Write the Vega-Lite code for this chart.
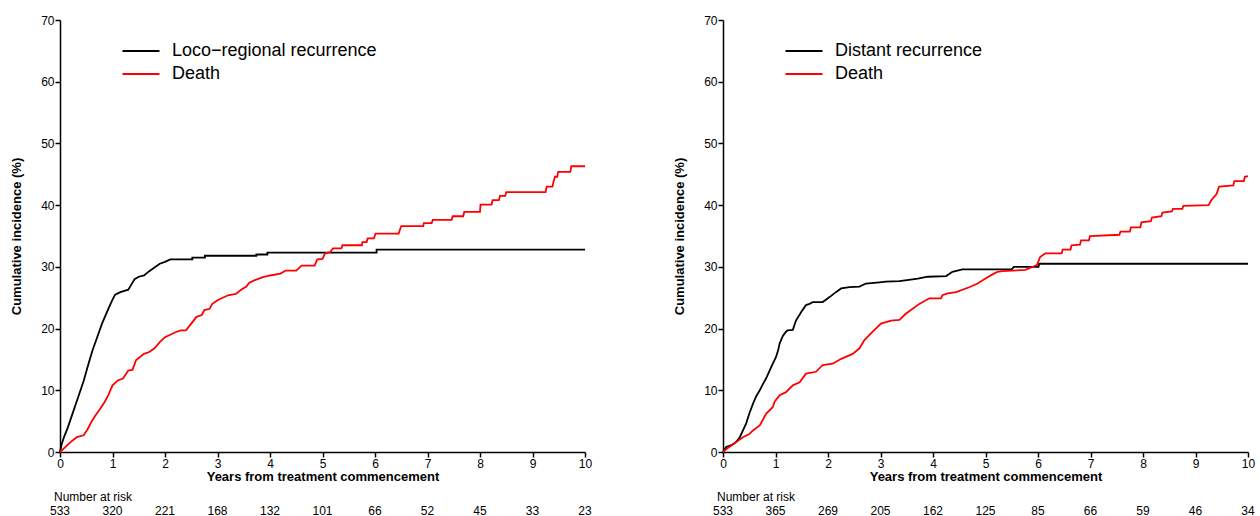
{
  "$schema": "https://vega.github.io/schema/vega-lite/v6.json",
  "padding": {"left": 10, "top": 14, "right": 5, "bottom": 0},
  "config": {
    "font": "Liberation Sans",
    "view": {"stroke": null},
    "axis": {"domainColor": "#000000", "domainWidth": 1.5, "tickColor": "#000000", "tickWidth": 1.5, "tickSize": 5, "labelColor": "#000000", "labelFontSize": 12, "labelPadding": 1, "titleColor": "#000000", "titleFontSize": 13, "titleFontWeight": "bold", "grid": false, "labelFlush": false},
    "legend": {"orient": "none", "legendX": 72, "legendY": 22, "title": null, "symbolType": "M-3,0H3", "symbolSize": 152, "symbolStrokeWidth": 2, "labelFontSize": 18, "labelOffset": 22, "rowPadding": 5, "padding": 0, "labelColor": "#000000", "labelLimit": 400}
  },
  "datasets": {
    "curves": [
      {"panel": "L", "series": "Loco−regional recurrence", "t": 0, "ci": 0},
      {"panel": "L", "series": "Loco−regional recurrence", "t": 0.03, "ci": 1.2},
      {"panel": "L", "series": "Loco−regional recurrence", "t": 0.08, "ci": 2.5},
      {"panel": "L", "series": "Loco−regional recurrence", "t": 0.15, "ci": 4},
      {"panel": "L", "series": "Loco−regional recurrence", "t": 0.25, "ci": 6.5},
      {"panel": "L", "series": "Loco−regional recurrence", "t": 0.35, "ci": 9},
      {"panel": "L", "series": "Loco−regional recurrence", "t": 0.45, "ci": 11.5},
      {"panel": "L", "series": "Loco−regional recurrence", "t": 0.55, "ci": 14.5},
      {"panel": "L", "series": "Loco−regional recurrence", "t": 0.62, "ci": 16.5},
      {"panel": "L", "series": "Loco−regional recurrence", "t": 0.7, "ci": 18.4},
      {"panel": "L", "series": "Loco−regional recurrence", "t": 0.8, "ci": 20.8},
      {"panel": "L", "series": "Loco−regional recurrence", "t": 0.9, "ci": 22.8},
      {"panel": "L", "series": "Loco−regional recurrence", "t": 1.0, "ci": 24.7},
      {"panel": "L", "series": "Loco−regional recurrence", "t": 1.05, "ci": 25.5},
      {"panel": "L", "series": "Loco−regional recurrence", "t": 1.15, "ci": 25.9},
      {"panel": "L", "series": "Loco−regional recurrence", "t": 1.3, "ci": 26.3},
      {"panel": "L", "series": "Loco−regional recurrence", "t": 1.35, "ci": 27},
      {"panel": "L", "series": "Loco−regional recurrence", "t": 1.42, "ci": 28},
      {"panel": "L", "series": "Loco−regional recurrence", "t": 1.5, "ci": 28.4},
      {"panel": "L", "series": "Loco−regional recurrence", "t": 1.6, "ci": 28.6},
      {"panel": "L", "series": "Loco−regional recurrence", "t": 1.7, "ci": 29.3},
      {"panel": "L", "series": "Loco−regional recurrence", "t": 1.8, "ci": 29.9},
      {"panel": "L", "series": "Loco−regional recurrence", "t": 1.9, "ci": 30.5},
      {"panel": "L", "series": "Loco−regional recurrence", "t": 2.0, "ci": 30.8},
      {"panel": "L", "series": "Loco−regional recurrence", "t": 2.1, "ci": 31.2},
      {"panel": "L", "series": "Loco−regional recurrence", "t": 2.52, "ci": 31.2},
      {"panel": "L", "series": "Loco−regional recurrence", "t": 2.52, "ci": 31.5},
      {"panel": "L", "series": "Loco−regional recurrence", "t": 2.76, "ci": 31.5},
      {"panel": "L", "series": "Loco−regional recurrence", "t": 2.76, "ci": 31.8},
      {"panel": "L", "series": "Loco−regional recurrence", "t": 3.74, "ci": 31.8},
      {"panel": "L", "series": "Loco−regional recurrence", "t": 3.74, "ci": 32.0},
      {"panel": "L", "series": "Loco−regional recurrence", "t": 3.95, "ci": 32.0},
      {"panel": "L", "series": "Loco−regional recurrence", "t": 3.95, "ci": 32.3},
      {"panel": "L", "series": "Loco−regional recurrence", "t": 6.03, "ci": 32.3},
      {"panel": "L", "series": "Loco−regional recurrence", "t": 6.03, "ci": 32.8},
      {"panel": "L", "series": "Loco−regional recurrence", "t": 10, "ci": 32.8},
      {"panel": "L", "series": "Death", "t": 0, "ci": 0},
      {"panel": "L", "series": "Death", "t": 0.1, "ci": 0.8},
      {"panel": "L", "series": "Death", "t": 0.2, "ci": 1.6},
      {"panel": "L", "series": "Death", "t": 0.32, "ci": 2.4},
      {"panel": "L", "series": "Death", "t": 0.45, "ci": 2.7},
      {"panel": "L", "series": "Death", "t": 0.52, "ci": 3.6},
      {"panel": "L", "series": "Death", "t": 0.6, "ci": 4.9},
      {"panel": "L", "series": "Death", "t": 0.68, "ci": 6.0},
      {"panel": "L", "series": "Death", "t": 0.75, "ci": 6.8},
      {"panel": "L", "series": "Death", "t": 0.85, "ci": 8.1},
      {"panel": "L", "series": "Death", "t": 0.92, "ci": 9.2},
      {"panel": "L", "series": "Death", "t": 1.0, "ci": 10.8},
      {"panel": "L", "series": "Death", "t": 1.1, "ci": 11.6},
      {"panel": "L", "series": "Death", "t": 1.2, "ci": 11.9},
      {"panel": "L", "series": "Death", "t": 1.3, "ci": 13.2},
      {"panel": "L", "series": "Death", "t": 1.38, "ci": 13.3},
      {"panel": "L", "series": "Death", "t": 1.45, "ci": 14.9},
      {"panel": "L", "series": "Death", "t": 1.6, "ci": 15.9},
      {"panel": "L", "series": "Death", "t": 1.7, "ci": 16.2},
      {"panel": "L", "series": "Death", "t": 1.8, "ci": 16.8},
      {"panel": "L", "series": "Death", "t": 1.9, "ci": 17.8},
      {"panel": "L", "series": "Death", "t": 2.0, "ci": 18.6},
      {"panel": "L", "series": "Death", "t": 2.1, "ci": 19.0},
      {"panel": "L", "series": "Death", "t": 2.2, "ci": 19.4},
      {"panel": "L", "series": "Death", "t": 2.3, "ci": 19.7},
      {"panel": "L", "series": "Death", "t": 2.4, "ci": 19.7},
      {"panel": "L", "series": "Death", "t": 2.5, "ci": 20.8},
      {"panel": "L", "series": "Death", "t": 2.6, "ci": 21.9},
      {"panel": "L", "series": "Death", "t": 2.7, "ci": 22.2},
      {"panel": "L", "series": "Death", "t": 2.75, "ci": 23.0},
      {"panel": "L", "series": "Death", "t": 2.85, "ci": 23.2},
      {"panel": "L", "series": "Death", "t": 2.9, "ci": 24.0},
      {"panel": "L", "series": "Death", "t": 3.0, "ci": 24.6},
      {"panel": "L", "series": "Death", "t": 3.2, "ci": 25.4},
      {"panel": "L", "series": "Death", "t": 3.35, "ci": 25.6},
      {"panel": "L", "series": "Death", "t": 3.45, "ci": 26.3},
      {"panel": "L", "series": "Death", "t": 3.55, "ci": 26.8},
      {"panel": "L", "series": "Death", "t": 3.6, "ci": 27.4},
      {"panel": "L", "series": "Death", "t": 3.7, "ci": 27.8},
      {"panel": "L", "series": "Death", "t": 3.85, "ci": 28.3},
      {"panel": "L", "series": "Death", "t": 4.0, "ci": 28.6},
      {"panel": "L", "series": "Death", "t": 4.2, "ci": 28.9},
      {"panel": "L", "series": "Death", "t": 4.3, "ci": 29.4},
      {"panel": "L", "series": "Death", "t": 4.5, "ci": 29.4},
      {"panel": "L", "series": "Death", "t": 4.6, "ci": 30.2},
      {"panel": "L", "series": "Death", "t": 4.85, "ci": 30.2},
      {"panel": "L", "series": "Death", "t": 4.9, "ci": 31.2},
      {"panel": "L", "series": "Death", "t": 5.0, "ci": 31.3},
      {"panel": "L", "series": "Death", "t": 5.05, "ci": 32.2},
      {"panel": "L", "series": "Death", "t": 5.15, "ci": 32.4},
      {"panel": "L", "series": "Death", "t": 5.2, "ci": 33.0},
      {"panel": "L", "series": "Death", "t": 5.36, "ci": 33.0},
      {"panel": "L", "series": "Death", "t": 5.38, "ci": 33.5},
      {"panel": "L", "series": "Death", "t": 5.75, "ci": 33.5},
      {"panel": "L", "series": "Death", "t": 5.76, "ci": 34.0},
      {"panel": "L", "series": "Death", "t": 5.84, "ci": 34.0},
      {"panel": "L", "series": "Death", "t": 5.86, "ci": 34.6},
      {"panel": "L", "series": "Death", "t": 5.98, "ci": 34.6},
      {"panel": "L", "series": "Death", "t": 6.01, "ci": 35.4},
      {"panel": "L", "series": "Death", "t": 6.45, "ci": 35.4},
      {"panel": "L", "series": "Death", "t": 6.47, "ci": 35.9},
      {"panel": "L", "series": "Death", "t": 6.5, "ci": 36.6},
      {"panel": "L", "series": "Death", "t": 6.92, "ci": 36.6},
      {"panel": "L", "series": "Death", "t": 6.93, "ci": 37.1},
      {"panel": "L", "series": "Death", "t": 7.08, "ci": 37.1},
      {"panel": "L", "series": "Death", "t": 7.1, "ci": 37.6},
      {"panel": "L", "series": "Death", "t": 7.46, "ci": 37.6},
      {"panel": "L", "series": "Death", "t": 7.48, "ci": 38.2},
      {"panel": "L", "series": "Death", "t": 7.68, "ci": 38.2},
      {"panel": "L", "series": "Death", "t": 7.7, "ci": 38.9},
      {"panel": "L", "series": "Death", "t": 8.0, "ci": 38.9},
      {"panel": "L", "series": "Death", "t": 8.01, "ci": 40.1},
      {"panel": "L", "series": "Death", "t": 8.22, "ci": 40.1},
      {"panel": "L", "series": "Death", "t": 8.24, "ci": 40.8},
      {"panel": "L", "series": "Death", "t": 8.36, "ci": 40.8},
      {"panel": "L", "series": "Death", "t": 8.38, "ci": 41.5},
      {"panel": "L", "series": "Death", "t": 8.48, "ci": 41.5},
      {"panel": "L", "series": "Death", "t": 8.5, "ci": 42.1},
      {"panel": "L", "series": "Death", "t": 9.25, "ci": 42.1},
      {"panel": "L", "series": "Death", "t": 9.27, "ci": 43.0},
      {"panel": "L", "series": "Death", "t": 9.38, "ci": 43.0},
      {"panel": "L", "series": "Death", "t": 9.4, "ci": 43.8},
      {"panel": "L", "series": "Death", "t": 9.43, "ci": 44.6},
      {"panel": "L", "series": "Death", "t": 9.47, "ci": 44.6},
      {"panel": "L", "series": "Death", "t": 9.49, "ci": 45.4},
      {"panel": "L", "series": "Death", "t": 9.72, "ci": 45.4},
      {"panel": "L", "series": "Death", "t": 9.74, "ci": 46.3},
      {"panel": "L", "series": "Death", "t": 10, "ci": 46.3},
      {"panel": "R", "series": "Distant recurrence", "t": 0, "ci": 0},
      {"panel": "R", "series": "Distant recurrence", "t": 0.06, "ci": 0.8},
      {"panel": "R", "series": "Distant recurrence", "t": 0.16, "ci": 1.1},
      {"panel": "R", "series": "Distant recurrence", "t": 0.25, "ci": 1.6},
      {"panel": "R", "series": "Distant recurrence", "t": 0.32, "ci": 2.4},
      {"panel": "R", "series": "Distant recurrence", "t": 0.38, "ci": 3.5},
      {"panel": "R", "series": "Distant recurrence", "t": 0.44, "ci": 4.6},
      {"panel": "R", "series": "Distant recurrence", "t": 0.5, "ci": 6.2},
      {"panel": "R", "series": "Distant recurrence", "t": 0.57, "ci": 7.8},
      {"panel": "R", "series": "Distant recurrence", "t": 0.63, "ci": 9.0},
      {"panel": "R", "series": "Distant recurrence", "t": 0.7, "ci": 10.0},
      {"panel": "R", "series": "Distant recurrence", "t": 0.76, "ci": 11.0},
      {"panel": "R", "series": "Distant recurrence", "t": 0.82, "ci": 11.9},
      {"panel": "R", "series": "Distant recurrence", "t": 0.92, "ci": 13.8},
      {"panel": "R", "series": "Distant recurrence", "t": 1.01, "ci": 15.4},
      {"panel": "R", "series": "Distant recurrence", "t": 1.05, "ci": 16.5},
      {"panel": "R", "series": "Distant recurrence", "t": 1.08, "ci": 17.6},
      {"panel": "R", "series": "Distant recurrence", "t": 1.14, "ci": 18.8},
      {"panel": "R", "series": "Distant recurrence", "t": 1.2, "ci": 19.5},
      {"panel": "R", "series": "Distant recurrence", "t": 1.23, "ci": 19.7},
      {"panel": "R", "series": "Distant recurrence", "t": 1.33, "ci": 19.8},
      {"panel": "R", "series": "Distant recurrence", "t": 1.39, "ci": 21.3},
      {"panel": "R", "series": "Distant recurrence", "t": 1.49, "ci": 22.7},
      {"panel": "R", "series": "Distant recurrence", "t": 1.58, "ci": 23.8},
      {"panel": "R", "series": "Distant recurrence", "t": 1.65, "ci": 24.0},
      {"panel": "R", "series": "Distant recurrence", "t": 1.71, "ci": 24.3},
      {"panel": "R", "series": "Distant recurrence", "t": 1.9, "ci": 24.3},
      {"panel": "R", "series": "Distant recurrence", "t": 2.03, "ci": 25.1},
      {"panel": "R", "series": "Distant recurrence", "t": 2.15, "ci": 25.9},
      {"panel": "R", "series": "Distant recurrence", "t": 2.25, "ci": 26.5},
      {"panel": "R", "series": "Distant recurrence", "t": 2.41, "ci": 26.7},
      {"panel": "R", "series": "Distant recurrence", "t": 2.6, "ci": 26.8},
      {"panel": "R", "series": "Distant recurrence", "t": 2.72, "ci": 27.3},
      {"panel": "R", "series": "Distant recurrence", "t": 2.98, "ci": 27.5},
      {"panel": "R", "series": "Distant recurrence", "t": 3.1, "ci": 27.6},
      {"panel": "R", "series": "Distant recurrence", "t": 3.36, "ci": 27.7},
      {"panel": "R", "series": "Distant recurrence", "t": 3.54, "ci": 27.9},
      {"panel": "R", "series": "Distant recurrence", "t": 3.71, "ci": 28.1},
      {"panel": "R", "series": "Distant recurrence", "t": 3.9, "ci": 28.4},
      {"panel": "R", "series": "Distant recurrence", "t": 4.25, "ci": 28.5},
      {"panel": "R", "series": "Distant recurrence", "t": 4.37, "ci": 29.2},
      {"panel": "R", "series": "Distant recurrence", "t": 4.56, "ci": 29.6},
      {"panel": "R", "series": "Distant recurrence", "t": 5.5, "ci": 29.6},
      {"panel": "R", "series": "Distant recurrence", "t": 5.54, "ci": 30.0},
      {"panel": "R", "series": "Distant recurrence", "t": 6.01, "ci": 30.0},
      {"panel": "R", "series": "Distant recurrence", "t": 6.02, "ci": 30.5},
      {"panel": "R", "series": "Distant recurrence", "t": 10, "ci": 30.5},
      {"panel": "R", "series": "Death", "t": 0, "ci": 0},
      {"panel": "R", "series": "Death", "t": 0.1, "ci": 0.7},
      {"panel": "R", "series": "Death", "t": 0.25, "ci": 1.6},
      {"panel": "R", "series": "Death", "t": 0.38, "ci": 2.4},
      {"panel": "R", "series": "Death", "t": 0.5, "ci": 2.9},
      {"panel": "R", "series": "Death", "t": 0.57, "ci": 3.5},
      {"panel": "R", "series": "Death", "t": 0.7, "ci": 4.3},
      {"panel": "R", "series": "Death", "t": 0.82, "ci": 6.2},
      {"panel": "R", "series": "Death", "t": 0.95, "ci": 7.3},
      {"panel": "R", "series": "Death", "t": 0.98, "ci": 8.1},
      {"panel": "R", "series": "Death", "t": 1.08, "ci": 9.2},
      {"panel": "R", "series": "Death", "t": 1.2, "ci": 9.7},
      {"panel": "R", "series": "Death", "t": 1.33, "ci": 10.8},
      {"panel": "R", "series": "Death", "t": 1.46, "ci": 11.3},
      {"panel": "R", "series": "Death", "t": 1.58, "ci": 12.7},
      {"panel": "R", "series": "Death", "t": 1.77, "ci": 13.0},
      {"panel": "R", "series": "Death", "t": 1.9, "ci": 14.1},
      {"panel": "R", "series": "Death", "t": 2.09, "ci": 14.3},
      {"panel": "R", "series": "Death", "t": 2.25, "ci": 15.1},
      {"panel": "R", "series": "Death", "t": 2.47, "ci": 15.9},
      {"panel": "R", "series": "Death", "t": 2.6, "ci": 16.8},
      {"panel": "R", "series": "Death", "t": 2.69, "ci": 18.1},
      {"panel": "R", "series": "Death", "t": 2.85, "ci": 19.5},
      {"panel": "R", "series": "Death", "t": 3.01, "ci": 20.8},
      {"panel": "R", "series": "Death", "t": 3.2, "ci": 21.3},
      {"panel": "R", "series": "Death", "t": 3.36, "ci": 21.4},
      {"panel": "R", "series": "Death", "t": 3.48, "ci": 22.4},
      {"panel": "R", "series": "Death", "t": 3.58, "ci": 23.0},
      {"panel": "R", "series": "Death", "t": 3.74, "ci": 24.0},
      {"panel": "R", "series": "Death", "t": 3.93, "ci": 24.9},
      {"panel": "R", "series": "Death", "t": 4.15, "ci": 24.9},
      {"panel": "R", "series": "Death", "t": 4.18, "ci": 25.4},
      {"panel": "R", "series": "Death", "t": 4.28, "ci": 25.7},
      {"panel": "R", "series": "Death", "t": 4.44, "ci": 25.9},
      {"panel": "R", "series": "Death", "t": 4.69, "ci": 26.7},
      {"panel": "R", "series": "Death", "t": 4.85, "ci": 27.3},
      {"panel": "R", "series": "Death", "t": 5.0, "ci": 28.1},
      {"panel": "R", "series": "Death", "t": 5.16, "ci": 28.9},
      {"panel": "R", "series": "Death", "t": 5.23, "ci": 29.2},
      {"panel": "R", "series": "Death", "t": 5.32, "ci": 29.3},
      {"panel": "R", "series": "Death", "t": 5.76, "ci": 29.5},
      {"panel": "R", "series": "Death", "t": 5.98, "ci": 30.3},
      {"panel": "R", "series": "Death", "t": 6.04, "ci": 31.6},
      {"panel": "R", "series": "Death", "t": 6.14, "ci": 32.2},
      {"panel": "R", "series": "Death", "t": 6.45, "ci": 32.2},
      {"panel": "R", "series": "Death", "t": 6.47, "ci": 32.8},
      {"panel": "R", "series": "Death", "t": 6.62, "ci": 32.8},
      {"panel": "R", "series": "Death", "t": 6.64, "ci": 33.5},
      {"panel": "R", "series": "Death", "t": 6.8, "ci": 33.6},
      {"panel": "R", "series": "Death", "t": 6.82, "ci": 34.3},
      {"panel": "R", "series": "Death", "t": 6.97, "ci": 34.3},
      {"panel": "R", "series": "Death", "t": 6.99, "ci": 35.0},
      {"panel": "R", "series": "Death", "t": 7.55, "ci": 35.2},
      {"panel": "R", "series": "Death", "t": 7.57, "ci": 35.7},
      {"panel": "R", "series": "Death", "t": 7.75, "ci": 35.7},
      {"panel": "R", "series": "Death", "t": 7.77, "ci": 36.4},
      {"panel": "R", "series": "Death", "t": 7.95, "ci": 36.4},
      {"panel": "R", "series": "Death", "t": 7.97, "ci": 37.2},
      {"panel": "R", "series": "Death", "t": 8.15, "ci": 37.4},
      {"panel": "R", "series": "Death", "t": 8.17, "ci": 38.0},
      {"panel": "R", "series": "Death", "t": 8.35, "ci": 38.2},
      {"panel": "R", "series": "Death", "t": 8.37, "ci": 38.8},
      {"panel": "R", "series": "Death", "t": 8.55, "ci": 39.0},
      {"panel": "R", "series": "Death", "t": 8.57, "ci": 39.4},
      {"panel": "R", "series": "Death", "t": 8.75, "ci": 39.4},
      {"panel": "R", "series": "Death", "t": 8.77, "ci": 39.9},
      {"panel": "R", "series": "Death", "t": 9.25, "ci": 40.0},
      {"panel": "R", "series": "Death", "t": 9.3, "ci": 40.8},
      {"panel": "R", "series": "Death", "t": 9.4, "ci": 41.8},
      {"panel": "R", "series": "Death", "t": 9.45, "ci": 43.0},
      {"panel": "R", "series": "Death", "t": 9.72, "ci": 43.2},
      {"panel": "R", "series": "Death", "t": 9.74, "ci": 43.9},
      {"panel": "R", "series": "Death", "t": 9.92, "ci": 43.9},
      {"panel": "R", "series": "Death", "t": 9.94, "ci": 44.6},
      {"panel": "R", "series": "Death", "t": 10, "ci": 44.7}
    ],
    "risk": [
      {"panel": "L", "t": 0, "n": 533}, {"panel": "L", "t": 1, "n": 320}, {"panel": "L", "t": 2, "n": 221}, {"panel": "L", "t": 3, "n": 168}, {"panel": "L", "t": 4, "n": 132}, {"panel": "L", "t": 5, "n": 101}, {"panel": "L", "t": 6, "n": 66}, {"panel": "L", "t": 7, "n": 52}, {"panel": "L", "t": 8, "n": 45}, {"panel": "L", "t": 9, "n": 33}, {"panel": "L", "t": 10, "n": 23},
      {"panel": "R", "t": 0, "n": 533}, {"panel": "R", "t": 1, "n": 365}, {"panel": "R", "t": 2, "n": 269}, {"panel": "R", "t": 3, "n": 205}, {"panel": "R", "t": 4, "n": 162}, {"panel": "R", "t": 5, "n": 125}, {"panel": "R", "t": 6, "n": 85}, {"panel": "R", "t": 7, "n": 66}, {"panel": "R", "t": 8, "n": 59}, {"panel": "R", "t": 9, "n": 46}, {"panel": "R", "t": 10, "n": 34}
    ]
  },
  "spacing": 81,
  "resolve": {"scale": {"color": "independent"}, "legend": {"color": "independent"}},
  "hconcat": [
    {
      "spacing": 8,
      "vconcat": [
        {
          "width": 525, "height": 432,
          "data": {"name": "curves"},
          "transform": [{"filter": "datum.panel === 'L'"}],
          "mark": {"type": "line", "strokeWidth": 1.8, "interpolate": "linear"},
          "encoding": {
            "x": {"field": "t", "type": "quantitative", "scale": {"domain": [0, 10], "nice": false}, "axis": {"values": [0,1,2,3,4,5,6,7,8,9,10], "title": "Years from treatment commencement", "titlePadding": 1}},
            "y": {"field": "ci", "type": "quantitative", "scale": {"domain": [0, 70], "nice": false}, "axis": {"values": [0,10,20,30,40,50,60,70], "title": "Cumulative incidence (%)", "titlePadding": 17}},
            "color": {"field": "series", "type": "nominal", "scale": {"domain": ["Loco−regional recurrence", "Death"], "range": ["#000000", "#ff0000"]}}
          }
        },
        {
          "width": 525, "height": 10,
          "data": {"name": "risk"},
          "transform": [{"filter": "datum.panel === 'L'"}],
          "title": {"text": "Number at risk", "anchor": "start", "frame": "group", "fontSize": 12, "fontWeight": "normal", "dx": -6, "offset": 1, "color": "#000000"},
          "mark": {"type": "text", "fontSize": 12, "color": "#000000"},
          "encoding": {
            "x": {"field": "t", "type": "quantitative", "scale": {"domain": [0, 10], "nice": false}, "axis": null},
            "text": {"field": "n", "type": "quantitative"}
          }
        }
      ]
    },
    {
      "spacing": 8,
      "vconcat": [
        {
          "width": 525, "height": 432,
          "data": {"name": "curves"},
          "transform": [{"filter": "datum.panel === 'R'"}],
          "mark": {"type": "line", "strokeWidth": 1.8, "interpolate": "linear"},
          "encoding": {
            "x": {"field": "t", "type": "quantitative", "scale": {"domain": [0, 10], "nice": false}, "axis": {"values": [0,1,2,3,4,5,6,7,8,9,10], "title": "Years from treatment commencement", "titlePadding": 1}},
            "y": {"field": "ci", "type": "quantitative", "scale": {"domain": [0, 70], "nice": false}, "axis": {"values": [0,10,20,30,40,50,60,70], "title": "Cumulative incidence (%)", "titlePadding": 17}},
            "color": {"field": "series", "type": "nominal", "scale": {"domain": ["Distant recurrence", "Death"], "range": ["#000000", "#ff0000"]}}
          }
        },
        {
          "width": 525, "height": 10,
          "data": {"name": "risk"},
          "transform": [{"filter": "datum.panel === 'R'"}],
          "title": {"text": "Number at risk", "anchor": "start", "frame": "group", "fontSize": 12, "fontWeight": "normal", "dx": -6, "offset": 1, "color": "#000000"},
          "mark": {"type": "text", "fontSize": 12, "color": "#000000"},
          "encoding": {
            "x": {"field": "t", "type": "quantitative", "scale": {"domain": [0, 10], "nice": false}, "axis": null},
            "text": {"field": "n", "type": "quantitative"}
          }
        }
      ]
    }
  ]
}
